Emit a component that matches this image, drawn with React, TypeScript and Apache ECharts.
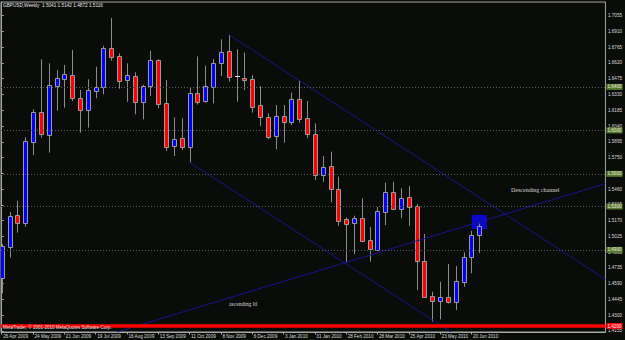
import { useEffect, useRef } from "react";
import * as echarts from "echarts";

// Weekly GBPUSD candles (bar index 0 = week of 26 Apr 2009)
const opens = [
  1.4639, 1.4930, 1.5221, 1.5145, 1.5896, 1.6172, 1.5957, 1.6411, 1.6475, 1.6507,
  1.6295, 1.6185, 1.6365, 1.6396, 1.6755, 1.6684, 1.6463, 1.6500, 1.6258, 1.6408,
  1.6645, 1.6249, 1.5859, 1.5927, 1.5844, 1.6348, 1.6273, 1.6402, 1.6617, 1.6727,
  1.6500, 1.6482, 1.6470, 1.6233, 1.6126, 1.5951, 1.6135, 1.6074, 1.6286, 1.6111,
  1.5964, 1.5589, 1.5672, 1.5461, 1.5185, 1.5145, 1.5194, 1.4991, 1.4899, 1.5252,
  1.5430, 1.5274, 1.5384, 1.5304, 1.4801, 1.4476, 1.4433, 1.4464, 1.4418, 1.4608,
  1.4832, 1.5041,
];
const highs = [
  1.4955, 1.5249, 1.5353, 1.5936, 1.6194, 1.6654, 1.6617, 1.6555, 1.6601, 1.6739,
  1.6371, 1.6470, 1.6586, 1.6779, 1.7034, 1.6709, 1.6617, 1.6534, 1.6420, 1.6733,
  1.6654, 1.6463, 1.6120, 1.6111, 1.6396, 1.6680, 1.6595, 1.6657, 1.6838, 1.6880,
  1.6746, 1.6715, 1.6509, 1.6408, 1.6157, 1.6233, 1.6233, 1.6347, 1.6457, 1.6270,
  1.6065, 1.5764, 1.5804, 1.5574, 1.5200, 1.5215, 1.5375, 1.5111, 1.5295, 1.5519,
  1.5528, 1.5467, 1.5488, 1.5323, 1.5047, 1.4516, 1.4608, 1.4771, 1.4752, 1.4878,
  1.5074, 1.5142,
];
const lows = [
  1.4501, 1.4829, 1.5059, 1.5114, 1.5773, 1.5933, 1.5795, 1.6181, 1.6209, 1.6270,
  1.5979, 1.6025, 1.6295, 1.6332, 1.6641, 1.6383, 1.6264, 1.6148, 1.6102, 1.6316,
  1.6203, 1.5810, 1.5764, 1.5819, 1.5706, 1.6238, 1.6255, 1.6249, 1.6500, 1.6448,
  1.6264, 1.6371, 1.6163, 1.6040, 1.5918, 1.5826, 1.5887, 1.6049, 1.6071, 1.5927,
  1.5543, 1.5528, 1.5338, 1.5120, 1.4786, 1.4863, 1.4976, 1.4792, 1.4890, 1.5129,
  1.5274, 1.5191, 1.5120, 1.4531, 1.4458, 1.4240, 1.4262, 1.4407, 1.4347, 1.4562,
  1.4685, 1.4872,
];
const closes = [
  1.4936, 1.5212, 1.5145, 1.5905, 1.6172, 1.5964, 1.6417, 1.6479, 1.6516, 1.6301,
  1.6187, 1.6369, 1.6399, 1.6755, 1.6678, 1.6457, 1.6507, 1.6261, 1.6411, 1.6645,
  1.6243, 1.5850, 1.5923, 1.5844, 1.6348, 1.6264, 1.6408, 1.6623, 1.6721, 1.6494,
  1.6500, 1.6463, 1.6218, 1.6120, 1.5942, 1.6132, 1.6080, 1.6286, 1.6105, 1.5964,
  1.5589, 1.5666, 1.5461, 1.5169, 1.5139, 1.5197, 1.4985, 1.4906, 1.5254, 1.5433,
  1.5279, 1.5375, 1.5298, 1.4801, 1.4470, 1.4433, 1.4470, 1.4418, 1.4614, 1.4832,
  1.5037, 1.5116,
];

const dateTickBars = [0, 4, 8, 12, 16, 20, 24, 28, 32, 36, 40, 44, 48, 52, 56, 60];
const dateTickLabels = [
  "26 Apr 2009", "24 May 2009", "21 Jun 2009", "19 Jul 2009", "16 Aug 2009",
  "13 Sep 2009", "11 Oct 2009", "8 Nov 2009", "6 Dec 2009", "3 Jan 2010",
  "31 Jan 2010", "28 Feb 2010", "28 Mar 2010", "25 Apr 2010", "23 May 2010",
  "20 Jun 2010",
];
const priceTicks = [
  1.7055, 1.691, 1.6765, 1.662, 1.6475, 1.633, 1.6185, 1.604, 1.5895, 1.575,
  1.5605, 1.546, 1.5315, 1.517, 1.5025, 1.488, 1.4735, 1.459, 1.4445, 1.43, 1.4155,
];
const levelLines = [1.635, 1.597, 1.564, 1.531, 1.49];
const redLevel = 1.4225;
const bidPrice = 1.5116;
const channelUpper = [[29, 1.688], [77.12, 1.463]];
const channelLower = [[24, 1.5706], [57.4, 1.4145]];
const ascendingLine = [[14.7, 1.4145], [77.12, 1.551]];
const markerBox = [[61, 1.5157]];

const titleText = "GBPUSD,Weekly  1.5041 1.5142 1.4872 1.5116";
const copyrightText = "MetaTrader, \u00a9 2001-2010 MetaQuotes Software Corp.";

const SANS = "Liberation Sans";
const SERIF = "Liberation Serif";
const FS = 4.6;

function renderCandle(params: any, api: any) {
  const i = api.value(0);
  const o = api.value(1);
  const h = api.value(2);
  const l = api.value(3);
  const c = api.value(4);
  const pO = api.coord([i, o]);
  const pC = api.coord([i, c]);
  const pH = api.coord([i, h]);
  const pL = api.coord([i, l]);
  const cx = Math.round(pO[0]);
  const top = Math.round(Math.min(pO[1], pC[1])) + 0.5;
  const bot = Math.round(Math.max(pO[1], pC[1])) + 0.5;
  const doji = Math.abs(c - o) < 0.00015;
  const bull = c > o;
  const wick = {
    type: "line",
    shape: { x1: cx + 0.5, y1: pH[1], x2: cx + 0.5, y2: pL[1] },
    style: { stroke: "#8c8c8c", lineWidth: 1 },
  };
  const body = doji
    ? {
        type: "line",
        shape: { x1: cx - 2, y1: top, x2: cx + 3, y2: top },
        style: { stroke: "#e0e0e0", lineWidth: 1 },
      }
    : {
        type: "rect",
        shape: { x: cx - 1.5, y: top, width: 4, height: Math.max(1, bot - top) },
        style: { fill: bull ? "#0000ff" : "#ff0000", stroke: "#9c9c9c", lineWidth: 1 },
      };
  return { type: "group", children: [wick, body] };
}

export default function App() {
  const ref = useRef<HTMLDivElement>(null);
  useEffect(() => {
    if (!ref.current) return;
    const chart = echarts.init(ref.current, undefined, { renderer: "svg" });
    const candleData = opens.map((o, i) => [i, o, highs[i], lows[i], closes[i]]);
    const greenLabel = {
      show: true,
      position: "end",
      distance: 1,
      formatter: (p: any) => Number(p.value).toFixed(4),
      backgroundColor: "#587a2c",
      color: "#e8eedc",
      fontSize: FS,
      fontFamily: SANS,
      padding: [0.5, 1, 0.5, 1],
      lineHeight: 5,
    };
    const markData: any[] = levelLines.map((v) => ({
      yAxis: v,
      lineStyle: { color: "#5c5c5c", width: 1, type: [1, 2] },
      label: greenLabel,
    }));
    markData.push({
      yAxis: redLevel,
      lineStyle: { color: "#ff0000", width: 3.5, type: "solid" },
      label: { ...greenLabel, backgroundColor: "#ff0000", color: "#ffffff" },
    });
    markData.push({
      yAxis: bidPrice,
      lineStyle: { opacity: 0 },
      label: { ...greenLabel, backgroundColor: "#ffffff", color: "#000000" },
    });

    const trendStyle = { color: "#16168e", width: 1 };

    chart.setOption({
      animation: false,
      backgroundColor: "#0a0c09",
      textStyle: { fontFamily: SANS },
      grid: {
        left: 1,
        right: 18.3,
        top: 2,
        bottom: 8,
        show: true,
        borderColor: "#a8a8a8",
        borderWidth: 1,
        backgroundColor: "#0a0c09",
      },
      xAxis: {
        type: "value",
        min: -0.09,
        max: 77.12,
        axisLine: { show: true, lineStyle: { color: "#a8a8a8" } },
        axisTick: { show: true, customValues: dateTickBars, length: 2.5, lineStyle: { color: "#a8a8a8" } },
        axisLabel: {
          show: true,
          customValues: dateTickBars,
          formatter: (v: number) => dateTickLabels[dateTickBars.indexOf(Math.round(v))] ?? "",
          align: "left",
          padding: [0, 0, 0, 1.5],
          margin: 1.5,
          fontSize: FS,
          fontFamily: SANS,
          color: "#dcdcdc",
        },
        splitLine: { show: false },
      },
      yAxis: {
        type: "value",
        position: "right",
        min: 1.4145,
        max: 1.7181,
        scale: true,
        axisLine: { show: true, lineStyle: { color: "#a8a8a8" } },
        axisTick: { show: true, customValues: priceTicks, length: 2, lineStyle: { color: "#a8a8a8" } },
        axisLabel: {
          show: true,
          customValues: priceTicks,
          formatter: (v: number) => v.toFixed(4),
          margin: 2.5,
          fontSize: FS,
          fontFamily: SANS,
          color: "#dcdcdc",
        },
        splitLine: { show: false },
      },
      series: [
        {
          type: "scatter",
          data: markerBox,
          symbol: "rect",
          symbolSize: [15, 14],
          itemStyle: { color: "#0a0aff" },
          z: 1,
          silent: true,
        },
        {
          type: "custom",
          data: candleData,
          encode: { x: 0, y: [1, 2, 3, 4] },
          renderItem: renderCandle,
          clip: true,
          z: 3,
          silent: true,
        },
        {
          type: "line",
          data: channelUpper,
          showSymbol: false,
          symbol: "none",
          lineStyle: trendStyle,
          z: 4,
          silent: true,
          markLine: {
            silent: true,
            symbol: ["none", "none"],
            animation: false,
            data: markData,
          },
        },
        {
          type: "line",
          data: channelLower,
          symbol: "none",
          lineStyle: trendStyle,
          z: 4,
          silent: true,
        },
        {
          type: "line",
          data: ascendingLine,
          symbol: "none",
          lineStyle: trendStyle,
          z: 4,
          silent: true,
        },
      ],
      graphic: [
        {
          type: "text",
          x: 3,
          y: 5,
          z: 100,
          style: { text: titleText, fill: "#e6e6e6", fontSize: 4.7, fontFamily: SANS, verticalAlign: "middle" },
        },
        {
          type: "text",
          x: 511,
          y: 190,
          z: 100,
          style: { text: "Descending channel", fill: "#d4d4d4", fontSize: 6, fontFamily: SERIF, verticalAlign: "middle" },
        },
        {
          type: "text",
          x: 229,
          y: 304,
          z: 100,
          style: { text: "ascending ltl", fill: "#d4d4d4", fontSize: 5.6, fontFamily: SERIF, verticalAlign: "middle" },
        },
        {
          type: "text",
          x: 3,
          y: 327.6,
          z: 100,
          style: { text: copyrightText, fill: "#e6e6e6", fontSize: 4.5, fontFamily: SANS, verticalAlign: "middle" },
        },
      ],
    });
    return () => chart.dispose();
  }, []);
  return (
    <div
      ref={ref}
      style={{ position: "fixed", left: 0, top: 0, width: 625, height: 340, background: "#0a0c09" }}
    />
  );
}
